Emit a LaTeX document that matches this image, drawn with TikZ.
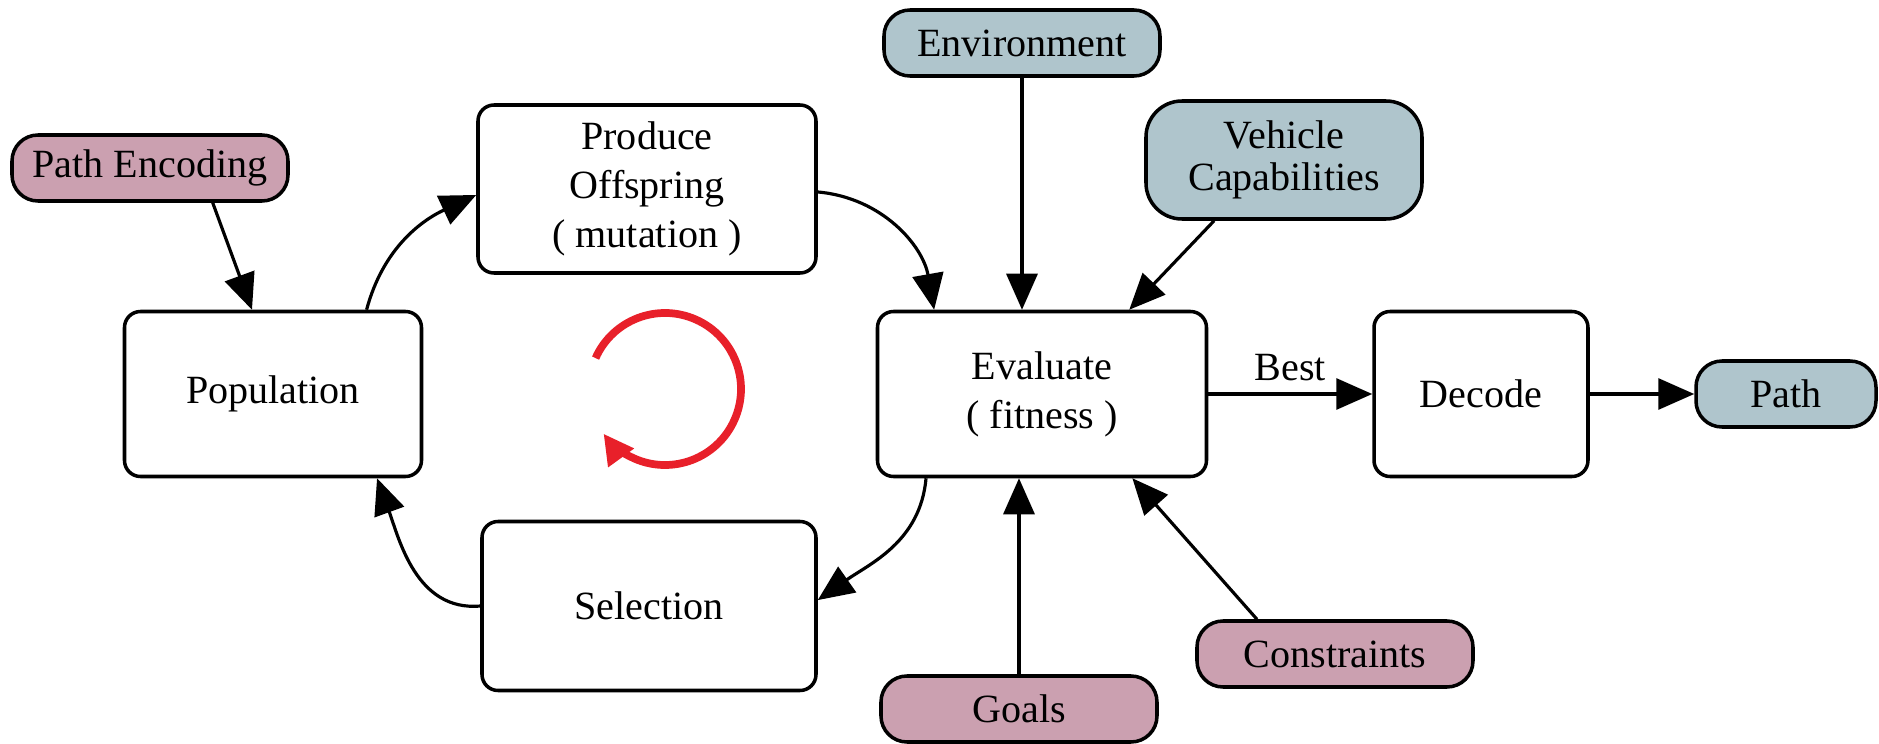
\documentclass[tikz,border=0pt]{standalone}
\usepackage{fontspec}
\setmainfont{Liberation Serif}
\usetikzlibrary{arrows.meta}
\definecolor{rose}{HTML}{CBA0B0}
\definecolor{slate}{HTML}{AFC5CC}
\definecolor{loopred}{HTML}{E8202A}
\begin{document}
\begin{tikzpicture}[x=.1mm, y=.1mm, font={\fontsize{11.4}{13.9}\selectfont}, line join=round, >={Triangle[length=3.6mm,width=3.1mm]},
	box/.style={draw, line width=1pt, rounded corners=1.6mm, align=center, inner sep=0pt},
	term/.style={draw, line width=1pt, rounded corners=2.6mm, align=center, inner sep=0pt, minimum width=27.6mm, minimum height=6.6mm},
	link/.style={->, line width=.9pt}]
	\useasboundingbox (0,0) rectangle (1879,-744);
	% main loop
	\node[box, minimum width=29.7mm, minimum height=16.5mm] (pop) at (273,-394) {Population};
	\node[box, minimum width=33.8mm, minimum height=16.8mm] (prod) at (647,-189) {Produce\\Offspring\\( mutation )};
	\node[box, minimum width=32.9mm, minimum height=16.5mm] (eval) at (1042,-394) {Evaluate\\( fitness )};
	\node[box, minimum width=33.4mm, minimum height=16.9mm] (sel) at (649,-606) {Selection};
	\node[box, minimum width=21.4mm, minimum height=16.5mm] (dec) at (1481,-394) {Decode};
	% inputs and output
	\node[term, fill=rose] (penc) at (150,-168) {Path Encoding};
	\node[term, fill=slate] (env) at (1022,-43) {Environment};
	\node[term, fill=slate, minimum height=11.8mm, rounded corners=3.6mm, font={\fontsize{11.4}{12}\selectfont}] (veh) at (1284,-160) {Vehicle\\Capabilities};
	\node[term, fill=rose] (goal) at (1019,-709) {Goals};
	\node[term, fill=rose] (cons) at (1335,-654) {Constraints};
	\node[term, fill=slate, minimum width=18mm] (path) at (1786,-394) {Path};
	% connectors
	\draw[link] (penc.-29) -- (pop.104);
	\draw[link] (pop.42) to[out=75, in=205] (prod.182);
	\draw[link] (prod.-1) to[out=-5, in=100] (eval.142);
	\draw[link] (eval.216) to[out=-95, in=35] (sel.2);
	\draw[link] (sel.west) to[out=185, in=-70] (pop.-39);
	\draw[link] (env.south) -- (env.south |- eval.north);
	\draw[link] (veh.221) -- (eval.44);
	\draw[link] (goal.north) -- (goal.north |- eval.south);
	\draw[link] (cons.156) -- (eval.-43);
	\draw[link] (eval) -- node[above]{Best} (dec);
	\draw[link] (dec) -- (path);
	\coordinate (spin) at (665,-389);
	\draw[->, loopred, line width=2.2pt, >={Triangle[length=3mm,width=3mm]}] (spin) ++(156:76) arc[start angle=156, end angle=-144, radius=7.6mm];
\end{tikzpicture}
\end{document}
